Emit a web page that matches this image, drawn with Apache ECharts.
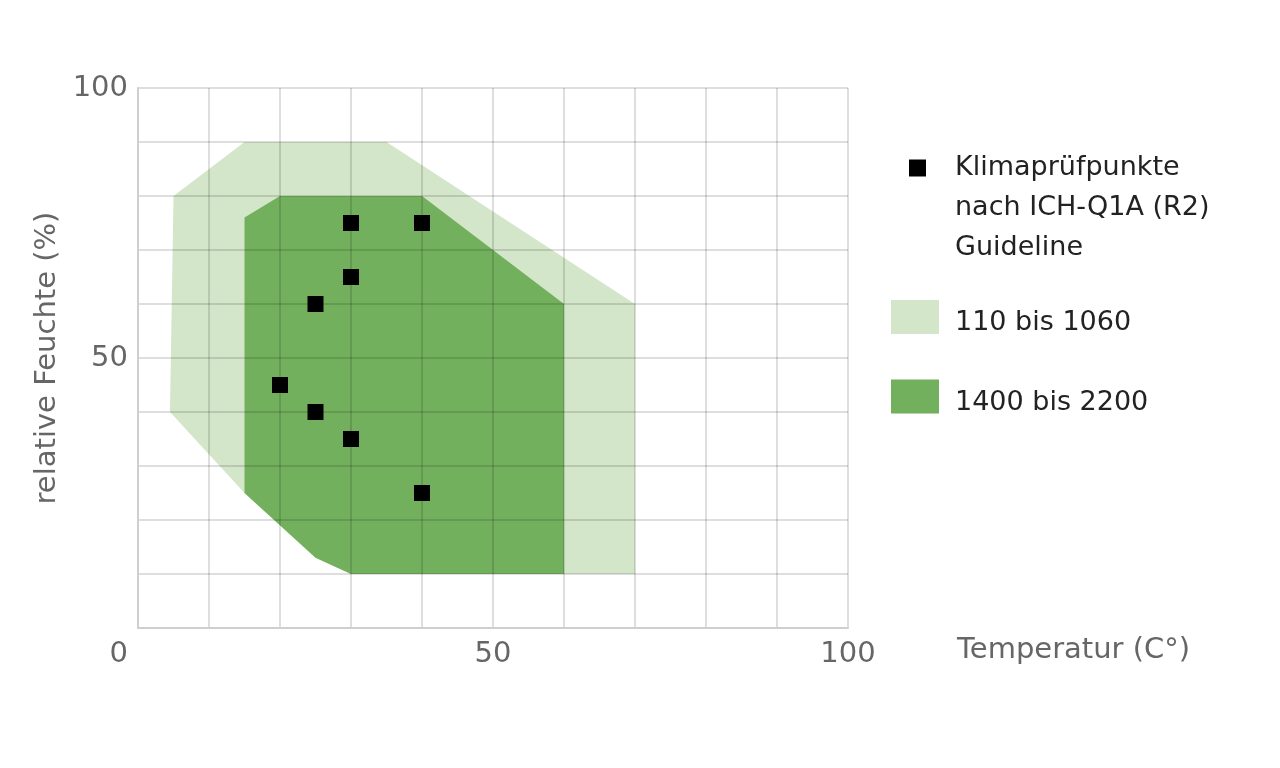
<!DOCTYPE html>
<html>
<head>
<meta charset="utf-8">
<style>
  html, body { margin: 0; padding: 0; background: #fff; }
  #chart { width: 1280px; height: 768px; }
</style>
<script src="https://cdn.jsdelivr.net/npm/echarts@6/dist/echarts.min.js"></script>
</head>
<body>
<div id="chart"></div>
<script>
// Klimaprüfpunkte (Temperatur, relative Feuchte)
const testPoints = [
  [30, 75], [40, 75], [30, 65], [25, 60],
  [20, 45], [25, 40], [30, 35], [40, 25]
];
// Bereich 110 bis 1060
const lightArea = [
  [5, 80], [15, 90], [35, 90], [70, 60], [70, 10],
  [30, 10], [25, 13], [15, 25], [4.5, 40]
];
// Bereich 1400 bis 2200
const darkArea = [
  [15, 76], [20, 80], [40, 80], [60, 60], [60, 10],
  [30, 10], [25, 13], [15, 25]
];
const pointName = 'Klimaprüfpunkte\nnach ICH-Q1A (R2)\nGuideline';
const lightName = '110 bis 1060';
const darkName = '1400 bis 2200';

const font = 'DejaVu Sans';

function polygonSeries(name, pts, color) {
  return {
    name: name,
    type: 'custom',
    z: 1,
    itemStyle: { color: color },
    data: [0],
    renderItem: function (params, api) {
      return {
        type: 'polygon',
        shape: { points: pts.map(p => api.coord(p)) },
        style: { fill: color }
      };
    }
  };
}

const chart = echarts.init(document.getElementById('chart'));
chart.setOption({
  animation: false,
  textStyle: { fontFamily: font },
  grid: { left: 138, right: 432, top: 88, bottom: 140 },
  legend: [
    {
      orient: 'vertical',
      left: 904, top: 63,
      itemWidth: 17, itemHeight: 17,
      selectedMode: false,
      icon: 'rect',
      data: [pointName],
      // zwei Leerzeilen davor, damit das Symbol auf Höhe der ersten Zeile sitzt
      formatter: name => '\n\n' + name,
      textStyle: { fontSize: 27, color: '#222', lineHeight: 40, padding: [0, 0, 0, 24] }
    },
    {
      orient: 'vertical',
      left: 886, top: 295,
      itemWidth: 48, itemHeight: 34,
      itemGap: 43,
      selectedMode: false,
      icon: 'rect',
      data: [lightName, darkName],
      formatter: name => '{t|' + name + '}',
      textStyle: {
        fontSize: 27, color: '#222',
        rich: { t: { fontSize: 27, color: '#222', padding: [12, 0, 0, 11] } }
      }
    }
  ],
  xAxis: {
    type: 'value',
    min: 0, max: 100, interval: 10,
    z: 5,
    name: 'Temperatur (C°)',
    nameLocation: 'end',
    nameGap: 109,
    nameTextStyle: { fontSize: 29, color: '#666', verticalAlign: 'top', padding: [8, 0, 0, 0] },
    axisLine: { show: true, lineStyle: { color: '#cfcfcf', width: 2 } },
    axisTick: { show: false },
    splitLine: { lineStyle: { color: 'rgba(0,0,0,0.13)', width: 2 } },
    axisLabel: {
      fontSize: 29, color: '#666', margin: 12,
      alignMinLabel: 'right',
      formatter: v => (v % 50 === 0 ? (v === 0 ? '{z|0}' : String(v)) : ''),
      rich: { z: { fontSize: 29, color: '#666', padding: [0, 10, 0, 0] } }
    }
  },
  yAxis: {
    type: 'value',
    min: 0, max: 100, interval: 10,
    z: 5,
    name: 'relative Feuchte (%)',
    nameLocation: 'middle',
    nameGap: 72,
    nameTextStyle: { fontSize: 29, color: '#666' },
    axisLine: { show: true, lineStyle: { color: '#cfcfcf', width: 2 } },
    axisTick: { show: false },
    splitLine: { lineStyle: { color: 'rgba(0,0,0,0.13)', width: 2 } },
    axisLabel: {
      fontSize: 29, color: '#666', margin: 10,
      showMinLabel: false,
      formatter: v => (v % 50 === 0 && v !== 0 ? String(v) : '')
    }
  },
  series: [
    polygonSeries(lightName, lightArea, '#d4e6c9'),
    polygonSeries(darkName, darkArea, '#72b05e'),
    {
      name: pointName,
      type: 'scatter',
      z: 10,
      symbol: 'rect',
      symbolSize: 16,
      itemStyle: { color: '#000', opacity: 1 },
      data: testPoints
    }
  ]
});
window.onresize = function () { chart.resize(); };
</script>
</body>
</html>
